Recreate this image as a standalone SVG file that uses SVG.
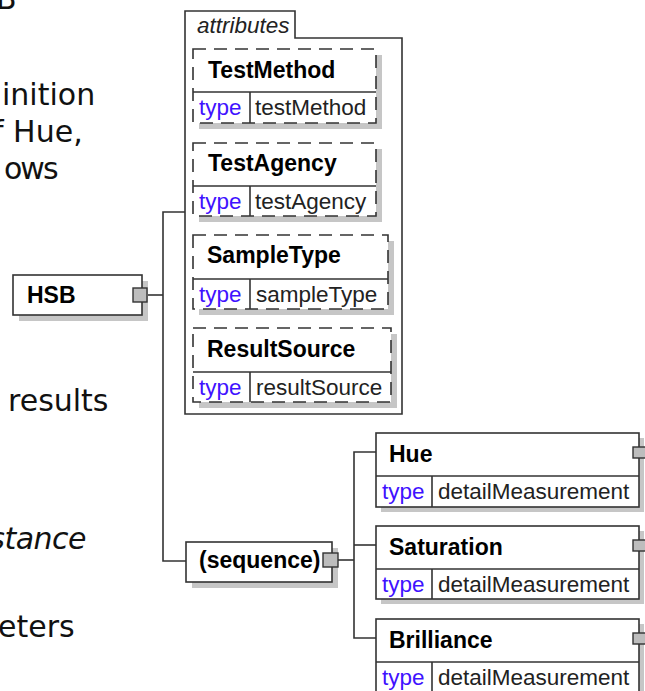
<svg xmlns="http://www.w3.org/2000/svg" width="645" height="691" viewBox="0 0 645 691">
<style>
.bg{fill:#ffffff}
.side{font-family:"DejaVu Sans",Verdana,sans-serif;font-size:30px;fill:#111}
.it{font-style:italic}
.ln{fill:none;stroke:#333;stroke-width:1.6}
.shadow{fill:#c6c6c6}
.dbox{fill:#fff;stroke:#333;stroke-width:1.6;stroke-dasharray:13 8}
.box{fill:#fff;stroke:#333;stroke-width:1.6}
.div{stroke:#333;stroke-width:1.6}
.sq{fill:#bdbdbd;stroke:#333;stroke-width:1.4}
.name{font-family:"Liberation Sans",Arial,sans-serif;font-weight:bold;font-size:23px;fill:#000}
.type{font-family:"Liberation Sans",Arial,sans-serif;font-size:22.5px;fill:#3f12ff}
.val{font-family:"Liberation Sans",Arial,sans-serif;font-size:22.5px;fill:#222}
.lbl{font-family:"Liberation Sans",Arial,sans-serif;font-style:italic;font-size:22.5px;fill:#222}
</style>
<rect class="bg" x="0" y="0" width="645" height="691"/>

<g id="side-text">
<text class="side" x="-4" y="9">B</text>
<text class="side" x="2" y="105">inition</text>
<text class="side" x="-7" y="142">f Hue,</text>
<text class="side" x="4" y="179" letter-spacing="-2">ows</text>
<text class="side" x="8" y="411">results</text>
<text class="side it" x="86" y="549" font-size="26" letter-spacing="-0.5" text-anchor="end">stance</text>
<text class="side" x="-2" y="637">eters</text>
</g>

<g id="connectors">
<polyline class="ln" points="147,295 163,295"/>
<polyline class="ln" points="185,212 163,212 163,561 186,561"/>
<polyline class="ln" points="338,560 354,560"/>
<polyline class="ln" points="376,452 354,452 354,638 376,638"/>
<polyline class="ln" points="354,545 376,545"/>
</g>

<g id="attributes">
<path class="ln" d="M185,414 L185,11 L295,11 L295,38 L402,38 L402,414 Z"/>
<text class="lbl" x="197" y="33">attributes</text>
</g>

<g id="attr-testmethod">
<rect class="shadow" x="199" y="55" width="183" height="74"/>
<rect class="dbox" x="193" y="49" width="183" height="74"/>
<line class="div" x1="193" y1="92" x2="376" y2="92"/>
<line class="div" x1="250" y1="92" x2="250" y2="123"/>
<text class="name" x="208" y="78">TestMethod</text>
<text class="type" x="199" y="115">type</text>
<text class="val" x="255" y="115">testMethod</text>
</g>

<g id="attr-testagency">
<rect class="shadow" x="199" y="149" width="183" height="73"/>
<rect class="dbox" x="193" y="143" width="183" height="73"/>
<line class="div" x1="193" y1="186" x2="376" y2="186"/>
<line class="div" x1="250" y1="186" x2="250" y2="216"/>
<text class="name" x="208" y="171">TestAgency</text>
<text class="type" x="199" y="209">type</text>
<text class="val" x="255" y="209">testAgency</text>
</g>

<g id="attr-sampletype">
<rect class="shadow" x="199" y="241" width="195" height="74"/>
<rect class="dbox" x="193" y="235" width="195" height="74"/>
<line class="div" x1="193" y1="279" x2="388" y2="279"/>
<line class="div" x1="250" y1="279" x2="250" y2="309"/>
<text class="name" x="207" y="263">SampleType</text>
<text class="type" x="199" y="302">type</text>
<text class="val" x="256" y="302">sampleType</text>
</g>

<g id="attr-resultsource">
<rect class="shadow" x="199" y="334" width="198" height="74"/>
<rect class="dbox" x="193" y="328" width="198" height="74"/>
<line class="div" x1="193" y1="372" x2="391" y2="372"/>
<line class="div" x1="250" y1="372" x2="250" y2="402"/>
<text class="name" x="207" y="357">ResultSource</text>
<text class="type" x="199" y="395">type</text>
<text class="val" x="256" y="395">resultSource</text>
</g>

<g id="hsb">
<rect class="shadow" x="19" y="281" width="129" height="40"/>
<rect class="box" x="13" y="275" width="129" height="40"/>
<text class="name" x="27" y="303" font-size="20.5">HSB</text>
<rect class="sq" x="133" y="288" width="14" height="14"/>
</g>

<g id="sequence">
<rect class="shadow" x="192" y="548" width="146" height="40"/>
<rect class="box" x="186" y="542" width="146" height="40"/>
<text class="name" x="199" y="568">(sequence)</text>
<rect class="sq" x="323" y="553" width="15" height="14"/>
</g>

<g id="hue">
<rect class="shadow" x="381" y="438" width="263" height="74"/>
<rect class="box" x="376" y="433" width="263" height="74"/>
<line class="div" x1="376" y1="476" x2="639" y2="476"/>
<line class="div" x1="432" y1="476" x2="432" y2="507"/>
<text class="name" x="389" y="462">Hue</text>
<text class="type" x="382" y="499">type</text>
<text class="val" x="438" y="499">detailMeasurement</text>
<rect class="sq" x="633" y="447" width="13" height="11"/>
</g>

<g id="saturation">
<rect class="shadow" x="381" y="531" width="263" height="73"/>
<rect class="box" x="376" y="526" width="263" height="73"/>
<line class="div" x1="376" y1="569" x2="639" y2="569"/>
<line class="div" x1="432" y1="569" x2="432" y2="599"/>
<text class="name" x="389" y="555">Saturation</text>
<text class="type" x="382" y="592">type</text>
<text class="val" x="438" y="592">detailMeasurement</text>
<rect class="sq" x="633" y="540" width="13" height="11"/>
</g>

<g id="brilliance">
<rect class="shadow" x="381" y="624" width="263" height="74"/>
<rect class="box" x="376" y="619" width="263" height="74"/>
<line class="div" x1="376" y1="662" x2="639" y2="662"/>
<line class="div" x1="432" y1="662" x2="432" y2="693"/>
<text class="name" x="389" y="648">Brilliance</text>
<text class="type" x="382" y="685">type</text>
<text class="val" x="438" y="685">detailMeasurement</text>
<rect class="sq" x="633" y="633" width="13" height="11"/>
</g>
</svg>
